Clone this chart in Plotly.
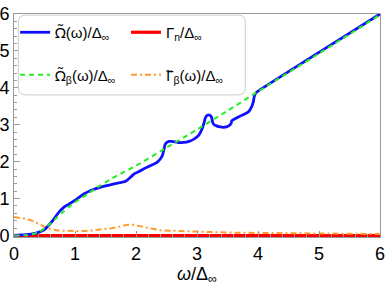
import plotly.graph_objects as go

# Omega tilde (blue, solid)
w_blue = [0, 0.06, 0.16, 0.28, 0.39, 0.5, 0.58, 0.66, 0.74, 0.82, 0.93, 1.04, 1.15, 1.26, 1.42,
          1.64, 1.83, 1.91, 1.97, 2.08, 2.13, 2.35, 2.43, 2.46, 2.48, 2.54, 2.59, 2.70, 2.78, 2.87,
          2.95, 3.03, 3.08, 3.11, 3.14, 3.17, 3.21, 3.24, 3.25, 3.27, 3.32, 3.36, 3.44, 3.52, 3.56,
          3.57, 3.63, 3.71, 3.79, 3.85, 3.89, 3.92, 3.94, 3.97, 4.01, 5.0, 6.0]
v_blue = [0, 0.01, 0.02, 0.04, 0.08, 0.16, 0.30, 0.46, 0.64, 0.77, 0.88, 1.0, 1.13, 1.22, 1.31,
          1.40, 1.47, 1.58, 1.67, 1.76, 1.81, 1.99, 2.16, 2.34, 2.48, 2.55, 2.55, 2.52, 2.52, 2.55,
          2.61, 2.72, 2.88, 3.02, 3.2, 3.26, 3.26, 3.2, 3.11, 3.02, 2.97, 2.95, 2.93, 2.97, 3.04,
          3.11, 3.17, 3.24, 3.3, 3.36, 3.47, 3.6, 3.77, 3.87, 3.92, 4.96, 6.0]

# Omega tilde beta (green, dashed)
w_green = [0, 0.2, 0.4, 0.5, 0.6, 0.7, 0.8, 0.9, 1.0, 1.2, 1.4, 1.6, 1.8, 2.0, 2.5, 3.0, 3.5, 4.0, 5.0, 6.0]
v_green = [0, 0.01, 0.08, 0.2, 0.33, 0.48, 0.63, 0.77, 0.9, 1.12, 1.34, 1.54, 1.72, 1.89, 2.38, 2.87, 3.38, 3.9, 4.93, 5.98]

# Gamma_n (red, solid)
w_red = [0, 6]
v_red = [0, 0]

# Gamma tilde beta (orange, dash-dot)
w_orange = [0, 0.17, 0.3, 0.39, 0.5, 0.6, 0.7, 0.82, 1.0, 1.15, 1.3, 1.48, 1.6, 1.7, 1.86, 1.95,
            2.1, 2.25, 2.4, 2.6, 2.73, 2.95, 3.2, 3.5, 4.0, 4.5, 5.0, 5.5, 6.0]
v_orange = [0.5, 0.46, 0.4, 0.32, 0.24, 0.17, 0.14, 0.13, 0.12, 0.12, 0.14, 0.17, 0.2, 0.23, 0.29, 0.29,
            0.25, 0.19, 0.14, 0.13, 0.12, 0.1, 0.09, 0.08, 0.07, 0.06, 0.05, 0.045, 0.04]

x_ticks = [0, 1, 2, 3, 4, 5, 6]
y_ticks = [0, 1, 2, 3, 4, 5, 6]

FONT = "Liberation Sans, Arial, sans-serif"
GRAY = "#9a9a9a"


def tl(ch):
    # letter with combining tilde, in a font that positions the mark well
    return f'<span style="font-family:Noto Sans">{ch}\u0303</span>'


fig = go.Figure()
fig.add_trace(go.Scatter(x=w_red, y=v_red, mode="lines", name="Γ<sub>n</sub>/Δ<sub>∞</sub>",
                         line=dict(color="#ff0000", width=3.2), legend="legend2", legendgroup="r"))
fig.add_trace(go.Scatter(x=w_orange, y=v_orange, mode="lines",
                         name=tl("Γ") + "<sub>β</sub>(ω)/Δ<sub>∞</sub>",
                         line=dict(color="#ff9a2e", width=2, dash="6px,3px,2px,3px"),
                         legend="legend2", legendgroup="o"))
fig.add_trace(go.Scatter(x=w_blue, y=v_blue, mode="lines", name=tl("Ω") + "(ω)/Δ<sub>∞</sub>",
                         line=dict(color="#1010ff", width=2.8, shape="spline", smoothing=0.6),
                         legendgroup="b"))
fig.add_trace(go.Scatter(x=w_green, y=v_green, mode="lines",
                         name=tl("Ω") + "<sub>β</sub>(ω)/Δ<sub>∞</sub>",
                         line=dict(color="#22ee22", width=2, dash="5px,4px", shape="spline", smoothing=0.6),
                         legendgroup="g"))

# legend box (rounded rectangle in paper coordinates)
x0, x1, y0, y1, r = 0.012, 0.632, 0.637, 0.995, 0.02
ry = r * 366 / 223
path = (f"M {x0+r},{y0} L {x1-r},{y0} Q {x1},{y0} {x1},{y0+ry} L {x1},{y1-ry} "
        f"Q {x1},{y1} {x1-r},{y1} L {x0+r},{y1} Q {x0},{y1} {x0},{y1-ry} L {x0},{y0+ry} "
        f"Q {x0},{y0} {x0+r},{y0} Z")
fig.add_shape(type="path", path=path, xref="paper", yref="paper",
              fillcolor="white", line=dict(color="#cccccc", width=1), layer="above")

axis_common = dict(
    showgrid=False, zeroline=False, showline=True, linecolor=GRAY, linewidth=1, mirror=True,
    ticks="inside", ticklen=6, tickwidth=1, tickcolor=GRAY, automargin=False,
    minor=dict(ticks="inside", ticklen=3, tickcolor=GRAY, dtick=0.2),
    tickfont=dict(family=FONT, size=18, color="black"),
)

fig.update_layout(
    width=387, height=291,
    margin=dict(l=14, r=7, t=14, b=54),
    plot_bgcolor="white", paper_bgcolor="white",
    xaxis=dict(range=[0, 6], tickvals=x_ticks, ticktext=[str(t) for t in x_ticks],
               title=dict(text="<i>ω</i>/Δ<sub>∞</sub>", font=dict(family=FONT, size=18, color="black"),
                          standoff=0),
               **axis_common),
    yaxis=dict(range=[-0.04, 6.0], tickvals=y_ticks, ticktext=[str(t) for t in y_ticks],
               **axis_common),
    legend=dict(x=0.003, y=0.991, xanchor="left", yanchor="top", bgcolor="rgba(0,0,0,0)",
                font=dict(family=FONT, size=15, color="black"), tracegroupgap=20,
                traceorder="grouped"),
    legend2=dict(x=0.306, y=0.991, xanchor="left", yanchor="top", bgcolor="rgba(0,0,0,0)",
                 font=dict(family=FONT, size=15, color="black"), tracegroupgap=20,
                 traceorder="grouped"),
    showlegend=True,
)

fig.write_html("out.html", config={"displayModeBar": False},
               post_script="document.body.style.margin='0';document.body.style.overflow='hidden';")
